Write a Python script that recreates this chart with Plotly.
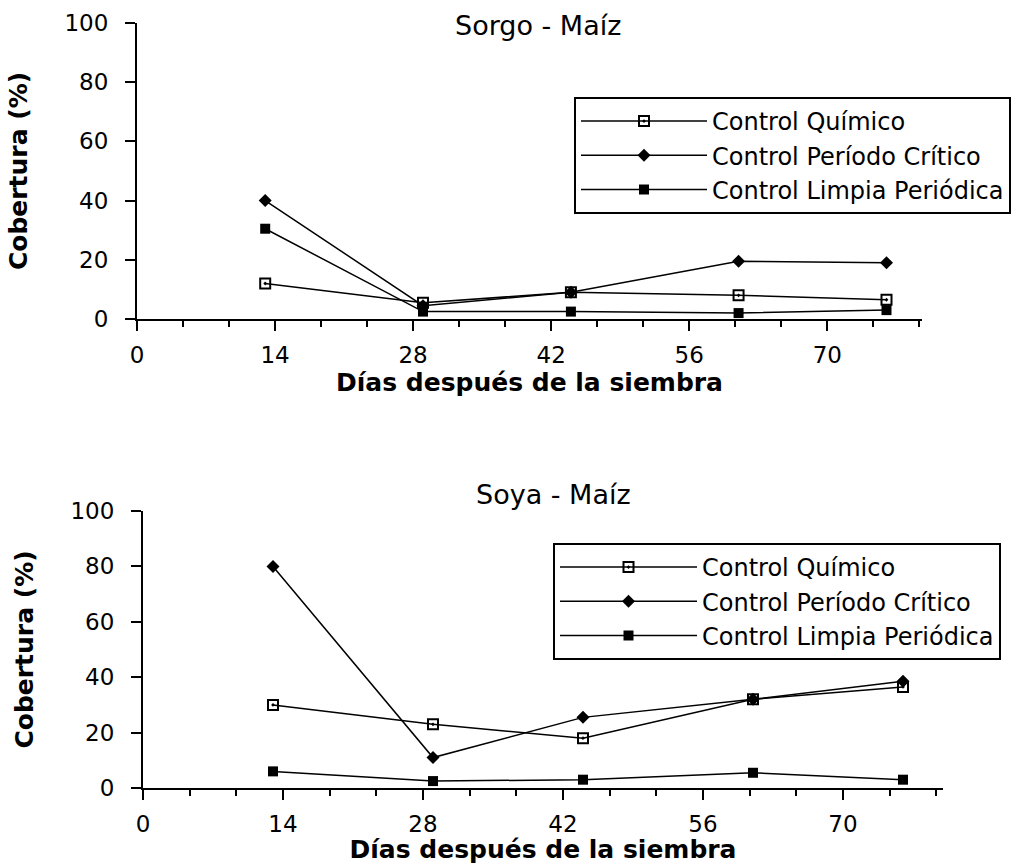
import plotly.graph_objects as go

# ---- data ----
dias = [13, 29, 44, 61, 76]
series_names = ["Control Químico", "Control Período Crítico", "Control Limpia Periódica"]

sorgo_quimico = [12, 5.5, 9, 8, 6.5]
sorgo_critico = [40, 4.5, 9, 19.5, 19]
sorgo_limpia = [30.5, 2.5, 2.5, 2, 3]

soya_quimico = [30, 23, 18, 32, 36.5]
soya_critico = [80, 11, 25.5, 32, 38.5]
soya_limpia = [6, 2.5, 3, 5.5, 3]

x_ticks = [0, 14, 28, 42, 56, 70]
y_ticks = [0, 20, 40, 60, 80, 100]

title_top = "Sorgo - Maíz"
title_bottom = "Soya - Maíz"
x_title = "Días después de la siembra"
y_title = "Cobertura (%)"

FONT = "DejaVu Sans"
W, H = 1028, 864

markers = [
    dict(symbol="square-open-dot", size=10, color="black", line=dict(color="black", width=2)),
    dict(symbol="diamond", size=10, color="black"),
    dict(symbol="square", size=10, color="black"),
]

fig = go.Figure()

def add_series(ys, xaxis, yaxis, legend):
    for name, y, mk in zip(series_names, ys, markers):
        fig.add_trace(go.Scatter(
            x=dias, y=y, name=name, mode="lines+markers",
            line=dict(color="black", width=1.5), marker=mk,
            xaxis=xaxis, yaxis=yaxis, legend=legend,
        ))

add_series([sorgo_quimico, sorgo_critico, sorgo_limpia], "x", "y", "legend")
add_series([soya_quimico, soya_critico, soya_limpia], "x2", "y2", "legend2")

def px_x(p):
    return p / W

def px_y(p):
    return 1 - p / H

axis_common = dict(
    showline=True, linecolor="black", linewidth=2, showgrid=False, zeroline=False,
    ticks="outside", tickcolor="black", tickwidth=2, ticklen=10,
    tickfont=dict(family=FONT, size=23, color="black"),
    mirror=False, automargin=False,
)

xaxis_common = dict(axis_common, tickvals=x_ticks, ticklabelstandoff=4,
                    minor=dict(dtick=14 / 3, tick0=0, ticks="outside", ticklen=6,
                               tickcolor="black", tickwidth=2),
                    title=dict(text=x_title, font=dict(family=FONT, size=25, color="black", weight="bold"),
                               standoff=2))
yaxis_common = dict(axis_common, tickvals=y_ticks, range=[0, 100], ticklabelstandoff=12,
                    title=dict(text=y_title, font=dict(family=FONT, size=25, color="black", weight="bold"),
                               standoff=30))

legend_common = dict(xanchor="left", yanchor="top",
                     bordercolor="black", borderwidth=2, bgcolor="white",
                     font=dict(family=FONT, size=24, color="black"),
                     tracegroupgap=0)

fig.update_layout(
    width=W, height=H, autosize=False,
    margin=dict(l=0, r=0, t=0, b=0, autoexpand=False),
    paper_bgcolor="white", plot_bgcolor="white",
    font=dict(family=FONT, color="black"),
    xaxis=dict(xaxis_common, domain=[px_x(137), px_x(922)], range=[0, 79.6], anchor="y"),
    yaxis=dict(yaxis_common, domain=[px_y(319), px_y(23)], anchor="x"),
    xaxis2=dict(xaxis_common, domain=[px_x(143), px_x(943)], range=[0, 80], anchor="y2"),
    yaxis2=dict(yaxis_common, domain=[px_y(788), px_y(511)], anchor="x2"),
    legend=dict(legend_common, x=px_x(574), y=px_y(97), itemwidth=126),
    legend2=dict(legend_common, x=px_x(553), y=px_y(543), itemwidth=137),
    annotations=[
        dict(text=title_top, x=px_x(538), y=px_y(25), xref="paper", yref="paper",
             xanchor="center", yanchor="middle",
             showarrow=False, font=dict(family=FONT, size=27, color="black")),
        dict(text=title_bottom, x=px_x(553), y=px_y(495), xref="paper", yref="paper",
             xanchor="center", yanchor="middle",
             showarrow=False, font=dict(family=FONT, size=27, color="black")),
    ],
    showlegend=True,
)

fig.write_html("out.html", config={"displayModeBar": False},
               post_script="document.body.style.margin='0';")
